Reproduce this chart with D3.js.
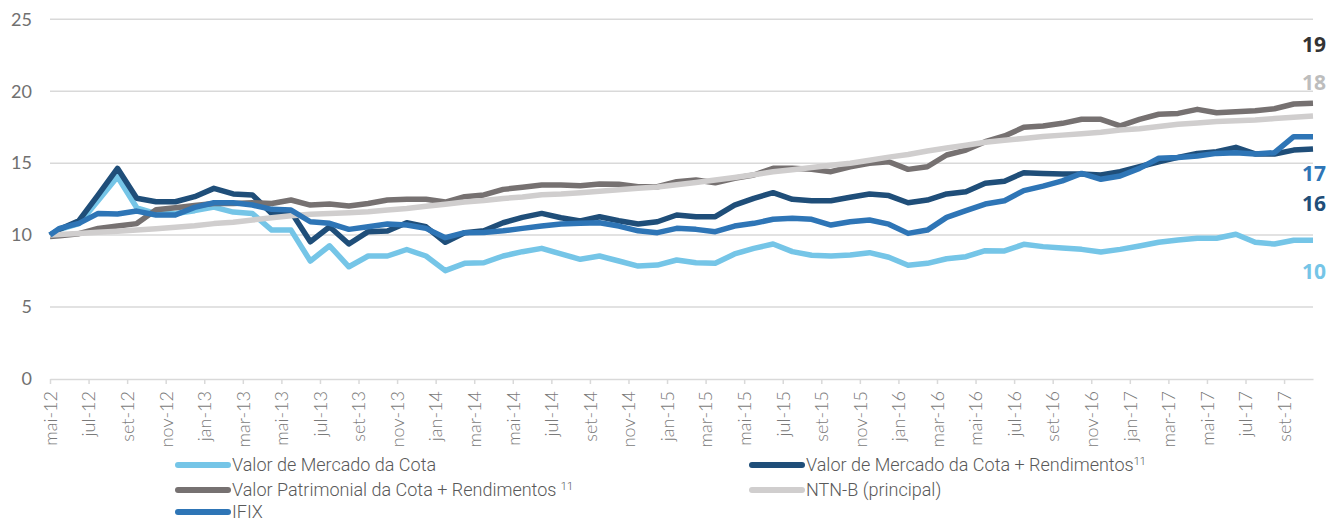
<!DOCTYPE html>
<html>
<head>
<meta charset="utf-8">
<script src="https://cdn.jsdelivr.net/npm/d3@7"></script>
<style>
  body { margin: 0; background: #fff; }
  svg text { font-family: Lato, "Open Sans", sans-serif; }
  .leg { font-family: Roboto, "Open Sans", sans-serif; font-weight: 300; font-size: 18px; fill: #595959; }
</style>
</head>
<body>
<svg id="chart" width="1338" height="524"></svg>
<script>
// meses do eixo (um valor por mês, o primeiro ponto é a base 10 no início de mai-12)
const meses = ['mai-12','jun-12','jul-12','ago-12','set-12','out-12','nov-12','dez-12',
  'jan-13','fev-13','mar-13','abr-13','mai-13','jun-13','jul-13','ago-13','set-13','out-13','nov-13','dez-13',
  'jan-14','fev-14','mar-14','abr-14','mai-14','jun-14','jul-14','ago-14','set-14','out-14','nov-14','dez-14',
  'jan-15','fev-15','mar-15','abr-15','mai-15','jun-15','jul-15','ago-15','set-15','out-15','nov-15','dez-15',
  'jan-16','fev-16','mar-16','abr-16','mai-16','jun-16','jul-16','ago-16','set-16','out-16','nov-16','dez-16',
  'jan-17','fev-17','mar-17','abr-17','mai-17','jun-17','jul-17','ago-17','set-17','out-17'];

const yTicks = [0, 5, 10, 15, 20, 25];

// valores (base 10 + um valor por mês)
const mercado = [10,
  10.4, 10.8, 12.4, 14.06, 11.9, 11.5, 11.5, 11.7, 11.95, 11.6, 11.5, 10.35,
  10.35, 8.2, 9.26, 7.8, 8.55, 8.55, 9.0, 8.55, 7.53, 8.04, 8.08, 8.55,
  8.85, 9.08, 8.69, 8.32, 8.55, 8.2, 7.85, 7.92, 8.27, 8.08, 8.04, 8.69,
  9.08, 9.38, 8.85, 8.6, 8.55, 8.62, 8.78, 8.46, 7.9, 8.04, 8.36, 8.5,
  8.92, 8.9, 9.36, 9.2, 9.1, 9.01, 8.83, 9.01, 9.24, 9.5, 9.66, 9.78,
  9.78, 10.06, 9.5, 9.38, 9.64, 9.64];

const mercadoRend = [10,
  10.4, 11.0, 12.8, 14.64, 12.56, 12.32, 12.32, 12.67, 13.25, 12.86, 12.79, 11.5,
  11.63, 9.54, 10.58, 9.38, 10.24, 10.28, 10.86, 10.58, 9.5, 10.17, 10.3, 10.86,
  11.23, 11.51, 11.21, 10.98, 11.28, 11.0, 10.77, 10.93, 11.4, 11.28, 11.28, 12.09,
  12.56, 12.95, 12.49, 12.39, 12.39, 12.63, 12.86, 12.75, 12.25, 12.44, 12.86, 13.02,
  13.6, 13.75, 14.34, 14.29, 14.25, 14.25, 14.18, 14.41, 14.75, 15.1, 15.4, 15.68,
  15.8, 16.1, 15.64, 15.64, 15.91, 15.98];

const patrimonial = [9.9,
  9.95, 10.1, 10.47, 10.63, 10.8, 11.76, 11.9, 12.06, 12.2, 12.2, 12.25, 12.2,
  12.44, 12.09, 12.16, 12.02, 12.2, 12.44, 12.49, 12.49, 12.3, 12.67, 12.79, 13.18,
  13.32, 13.48, 13.48, 13.43, 13.55, 13.53, 13.36, 13.36, 13.71, 13.83, 13.64, 13.95,
  14.18, 14.64, 14.64, 14.57, 14.41, 14.75, 14.99, 15.1, 14.57, 14.75, 15.57, 15.91,
  16.49, 16.89, 17.49, 17.58, 17.77, 18.05, 18.05, 17.6, 18.05, 18.4, 18.46, 18.74,
  18.5, 18.58, 18.65, 18.78, 19.11, 19.16];

const ntnb = [10,
  10.05, 10.12, 10.2, 10.27, 10.35, 10.45, 10.55, 10.65, 10.8, 10.9, 11.05, 11.2,
  11.35, 11.45, 11.5, 11.55, 11.62, 11.75, 11.85, 12.0, 12.15, 12.3, 12.4, 12.55,
  12.65, 12.8, 12.85, 12.95, 13.05, 13.15, 13.25, 13.35, 13.5, 13.65, 13.83, 14.0,
  14.2, 14.4, 14.55, 14.7, 14.85, 15.0, 15.2, 15.42, 15.6, 15.85, 16.05, 16.25,
  16.45, 16.6, 16.72, 16.85, 16.95, 17.05, 17.15, 17.3, 17.4, 17.55, 17.7, 17.8,
  17.9, 17.95, 18.0, 18.1, 18.2, 18.28];

const ifix = [10,
  10.47, 10.82, 11.51, 11.47, 11.67, 11.4, 11.4, 11.93, 12.25, 12.25, 12.09, 11.79,
  11.74, 10.93, 10.82, 10.4, 10.58, 10.77, 10.7, 10.47, 9.82, 10.17, 10.19, 10.3,
  10.47, 10.63, 10.77, 10.82, 10.86, 10.63, 10.3, 10.17, 10.47, 10.4, 10.24, 10.63,
  10.82, 11.1, 11.17, 11.1, 10.7, 10.93, 11.05, 10.76, 10.12, 10.35, 11.23, 11.7,
  12.16, 12.39, 13.09, 13.41, 13.77, 14.29, 13.88, 14.11, 14.64, 15.34, 15.4, 15.5,
  15.68, 15.73, 15.64, 15.73, 16.84, 16.84];

const series = [
  { nome: 'Valor de Mercado da Cota', sup: '', valores: mercado, cor: '#75c5e7', rotulo: '10', ry: 272 },
  { nome: 'Valor de Mercado da Cota + Rendimentos', sup: '11', valores: mercadoRend, cor: '#1f4e79', rotulo: '16', ry: 204 },
  { nome: 'Valor Patrimonial da Cota + Rendimentos ', sup: '11', valores: patrimonial, cor: '#767171', rotulo: '19', ry: 45, rotCor: '#333' },
  { nome: 'NTN-B (principal)', sup: '', valores: ntnb, cor: '#d0cece', rotulo: '18', ry: 83, rotCor: '#bdbdbd' },
  { nome: 'IFIX', sup: '', valores: ifix, cor: '#2e75b6', rotulo: '17', ry: 174 }
];

const svg = d3.select('#chart');
const mLeft = 50, mRight = 1313, mTop = 19.3, mBottom = 379;

// posição no tempo: 0 = início de mai-12, depois o meio de cada mês
const pos = i => (i === 0 ? 0 : i - 0.5);
const x = d3.scaleLinear().domain([0, meses.length - 0.5]).range([mLeft, mRight]);
const y = d3.scaleLinear().domain([0, 25]).range([mBottom, mTop]);

// grade
svg.append('g')
  .selectAll('line')
  .data(yTicks.filter(t => t > 0))
  .join('line')
  .attr('x1', mLeft).attr('x2', mRight)
  .attr('y1', d => y(d)).attr('y2', d => y(d))
  .attr('stroke', '#d9d9d9').attr('stroke-width', 1.5);

// eixo y
const yAxis = svg.append('g')
  .attr('transform', `translate(${mLeft - 18},0)`)
  .call(d3.axisLeft(y).tickValues(yTicks).tickSize(0).tickPadding(0));
yAxis.select('.domain').remove();
yAxis.selectAll('text')
  .attr('fill', '#707070')
  .style('font-size', '18px');

// eixo x
const xAxis = svg.append('g')
  .attr('transform', `translate(0,${mBottom})`)
  .call(d3.axisBottom(x)
    .tickValues(d3.range(0, meses.length, 2))
    .tickFormat(i => meses[i])
    .tickSize(5)
    .tickSizeOuter(0));
xAxis.select('.domain').attr('stroke', '#d9d9d9').attr('stroke-width', 1.5);
xAxis.selectAll('.tick line').attr('stroke', '#d9d9d9').attr('stroke-width', 1.5);
xAxis.selectAll('.tick text')
  .attr('fill', '#7a7a7a')
  .style('font-size', '18px')
  .style('font-weight', 300)
  .attr('text-anchor', 'end')
  .attr('transform', 'rotate(-90)')
  .attr('x', -12)
  .attr('y', 0)
  .attr('dy', '0.35em');

// linhas
const line = d3.line()
  .x((d, i) => x(pos(i)))
  .y(d => y(d));

svg.append('g')
  .selectAll('path')
  .data(series)
  .join('path')
  .attr('d', d => line(d.valores))
  .attr('fill', 'none')
  .attr('stroke', d => d.cor)
  .attr('stroke-width', 5.5)
  .attr('stroke-linejoin', 'round');

// rótulos no fim das linhas
svg.append('g')
  .selectAll('text')
  .data(series)
  .join('text')
  .attr('x', 1326)
  .attr('y', d => d.ry)
  .attr('dy', '0.35em')
  .attr('text-anchor', 'end')
  .attr('fill', d => d.rotCor || d.cor)
  .style('font-family', '"Open Sans", sans-serif')
  .style('font-weight', 700)
  .style('font-size', '21px')
  .text(d => d.rotulo);

// legenda
const legPos = [[178, 465], [752, 465], [178, 490], [752, 490], [178, 512]];
const leg = svg.append('g')
  .selectAll('g')
  .data(series)
  .join('g')
  .attr('transform', (d, i) => `translate(${legPos[i][0]},${legPos[i][1]})`);

leg.append('line')
  .attr('x1', 0).attr('x2', 50)
  .attr('stroke', d => d.cor)
  .attr('stroke-width', 6)
  .attr('stroke-linecap', 'round');

const lt = leg.append('text')
  .attr('class', 'leg')
  .attr('x', 54)
  .attr('dy', '0.35em');
lt.append('tspan').text(d => d.nome);
lt.append('tspan')
  .attr('dy', '-0.6em')
  .style('font-size', '11px')
  .text(d => d.sup);
</script>
</body>
</html>
